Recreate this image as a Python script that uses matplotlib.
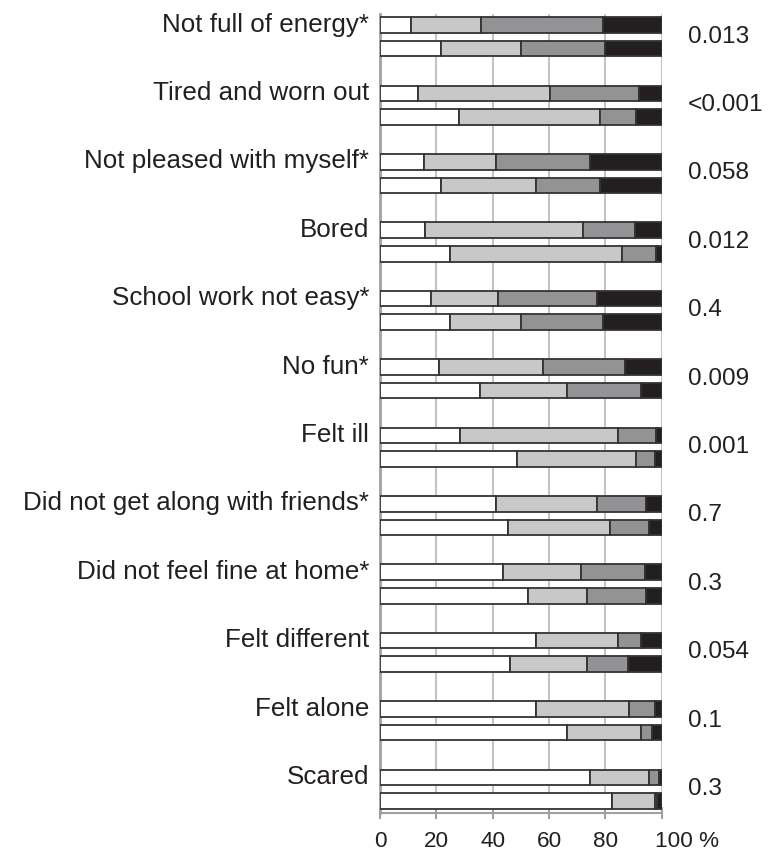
import matplotlib
matplotlib.use("Agg")
import matplotlib.pyplot as plt
import matplotlib.transforms as mtransforms
import numpy as np

plt.rcParams['font.family'] = ['Liberation Sans', 'DejaVu Sans']

# items, top to bottom
items = ["Not full of energy*", "Tired and worn out", "Not pleased with myself*",
         "Bored", "School work not easy*", "No fun*", "Felt ill",
         "Did not get along with friends*", "Did not feel fine at home*",
         "Felt different", "Felt alone", "Scared"]
p_values = ["0.013", "<0.001", "0.058", "0.012", "0.4", "0.009", "0.001",
            "0.7", "0.3", "0.054", "0.1", "0.3"]

# upper bar of each pair (% per answer category)
upper_1 = [11, 13.5, 15.5, 16, 18, 21, 28.5, 41, 43.5, 55.5, 55.5, 74.5]
upper_2 = [25, 47, 25.5, 56, 24, 37, 56, 36, 28, 29, 33, 21]
upper_3 = [43, 31.5, 33.5, 18.5, 35, 29, 13.5, 17.5, 22.5, 8, 9, 3.5]
upper_4 = [21, 8, 25.5, 9.5, 23, 13, 2, 5.5, 6, 7.5, 2.5, 1]

# lower bar of each pair
lower_1 = [21.5, 28, 21.5, 25, 25, 35.5, 48.5, 45.5, 52.5, 46, 66.5, 82.5]
lower_2 = [28.5, 50, 34, 61, 25, 31, 42.5, 36, 21, 27.5, 26, 15]
lower_3 = [30, 13, 22.5, 12, 29, 26, 6.5, 14, 21, 14.5, 4, 1]
lower_4 = [20, 9, 22, 2, 21, 7.5, 2.5, 4.5, 5.5, 12, 3.5, 1.5]

x_ticks = [0, 20, 40, 60, 80, 100]
x_tick_labels = ["0", "20", "40", "60", "80", "100 %"]

colors = ["#ffffff", "#c8c8c9", "#939395", "#231f20"]
text_color = "#231f20"

fig = plt.figure(figsize=(7.68, 8.55), dpi=100)
ax = fig.add_axes([0.4948, 0.0491, 0.3668, 0.9345])

pos = np.arange(len(items))
bar_h = 0.227
pair_off = 0.344

for y_base, series in [(pos, [upper_1, upper_2, upper_3, upper_4]),
                       (pos + pair_off, [lower_1, lower_2, lower_3, lower_4])]:
    left = np.zeros(len(items))
    for vals, col in zip(series, colors):
        vals = np.array(vals, dtype=float)
        ax.barh(y_base, vals, left=left, height=bar_h, color=col,
                edgecolor="#333333", linewidth=1.3, zorder=3)
        left += vals

for i, (name, p) in enumerate(zip(items, p_values)):
    ax.text(-3.9, i + 0.095, name, ha="right", va="baseline",
            fontsize=18.7, color=text_color, clip_on=False)
    ax.text(109.3, i + 0.256, p, ha="left", va="baseline",
            fontsize=17.6, color=text_color, clip_on=False)

ax.set_xlim(0, 100)
ax.set_ylim(11.52, -0.161)
ax.set_yticks([])
ax.set_xticks(x_ticks)
ax.set_xticklabels(x_tick_labels, fontsize=16.2, color=text_color)
ax.tick_params(axis="x", direction="inout", length=8, width=1.5,
               color="#a0a0a0", pad=9)
lbl = ax.get_xticklabels()[-1]
lbl.set_horizontalalignment("left")
lbl.set_transform(lbl.get_transform() +
                  mtransforms.ScaledTranslation(-7 / 100, 0, fig.dpi_scale_trans))

for x in x_ticks[1:]:
    ax.axvline(x, color="#c4c4c4", linewidth=1.5, zorder=1)

for side in ["top", "right"]:
    ax.spines[side].set_visible(False)
ax.spines["left"].set_color("#a0a0a0")
ax.spines["left"].set_linewidth(2)
ax.spines["bottom"].set_color("#a0a0a0")
ax.spines["bottom"].set_linewidth(1.5)

fig.savefig("out.png", dpi=100)
